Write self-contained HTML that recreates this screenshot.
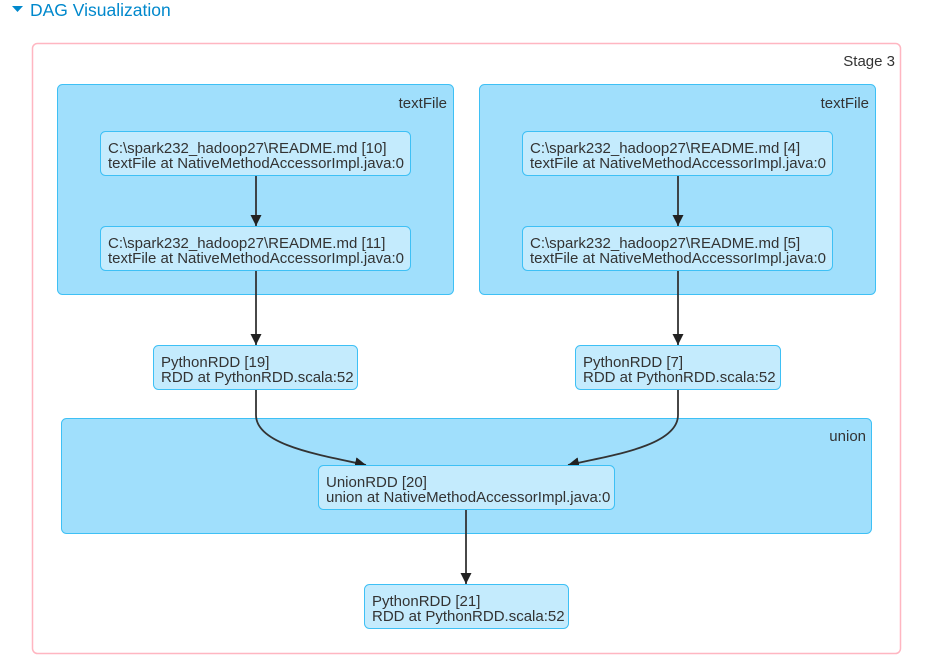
<!DOCTYPE html>
<html><head><meta charset="utf-8"><style>
html,body{margin:0;padding:0;background:#fff;}
svg{display:block;font-family:"Liberation Sans",Arial,sans-serif;}
.cl{fill:#a0dffc;stroke:#3ec0f5;stroke-width:1;}
.nd{fill:#c4ebfd;stroke:#3ec0f5;stroke-width:1;}
.t{font-size:15px;fill:#333;}
.e{fill:none;stroke:#333;stroke-width:1.8;}
</style></head><body>
<svg width="932" height="663" viewBox="0 0 932 663">
<defs>
<marker id="b" viewBox="0 0 10 10" refX="10" refY="5" markerWidth="11" markerHeight="11" markerUnits="userSpaceOnUse" orient="auto"><path d="M0,0L10,5L0,10z" fill="#222"/></marker></defs>
<path d="M12,6L23,6L17.5,12z" fill="#0088cc"/>
<text x="30" y="16" font-size="17.5" fill="#0088cc">DAG Visualization</text>
<rect x="32.5" y="43.5" width="868" height="610" rx="5" fill="#fff" stroke="#ffb6c1" stroke-width="1.5"/>
<text x="895" y="66" class="t" text-anchor="end" font-size="14">Stage 3</text>

<rect class="cl" x="57.5" y="84.5" width="396" height="210" rx="5"/>
<text x="447" y="108" class="t" text-anchor="end">textFile</text>
<rect class="cl" x="479.5" y="84.5" width="396" height="210" rx="5"/>
<text x="869" y="108" class="t" text-anchor="end">textFile</text>
<rect class="cl" x="61.5" y="418.5" width="810" height="115" rx="5"/>
<text x="866" y="441" class="t" text-anchor="end">union</text>

<path class="e" d="M256,176V226" marker-end="url(#b)"/>
<path class="e" d="M678,176V226" marker-end="url(#b)"/>
<path class="e" d="M256,271V345" marker-end="url(#b)"/>
<path class="e" d="M678,271V345" marker-end="url(#b)"/>
<path class="e" d="M256,390V415C256,445 320,455 366,465" marker-end="url(#b)"/>
<path class="e" d="M678,390V415C678,445 615,455 568,465" marker-end="url(#b)"/>
<path class="e" d="M466,510V584" marker-end="url(#b)"/>

<rect class="nd" x="100.5" y="131.5" width="310" height="44" rx="5"/>
<text class="t" x="108" y="153">C:\spark232_hadoop27\README.md [10]</text>
<text class="t" x="108" y="168">textFile at NativeMethodAccessorImpl.java:0</text>
<rect class="nd" x="100.5" y="226.5" width="310" height="44" rx="5"/>
<text class="t" x="108" y="248">C:\spark232_hadoop27\README.md [11]</text>
<text class="t" x="108" y="263">textFile at NativeMethodAccessorImpl.java:0</text>
<rect class="nd" x="522.5" y="131.5" width="310" height="44" rx="5"/>
<text class="t" x="530" y="153">C:\spark232_hadoop27\README.md [4]</text>
<text class="t" x="530" y="168">textFile at NativeMethodAccessorImpl.java:0</text>
<rect class="nd" x="522.5" y="226.5" width="310" height="44" rx="5"/>
<text class="t" x="530" y="248">C:\spark232_hadoop27\README.md [5]</text>
<text class="t" x="530" y="263">textFile at NativeMethodAccessorImpl.java:0</text>

<rect class="nd" x="153.5" y="345.5" width="204" height="44" rx="5"/>
<text class="t" x="161" y="367">PythonRDD [19]</text>
<text class="t" x="161" y="382">RDD at PythonRDD.scala:52</text>
<rect class="nd" x="575.5" y="345.5" width="205" height="44" rx="5"/>
<text class="t" x="583" y="367">PythonRDD [7]</text>
<text class="t" x="583" y="382">RDD at PythonRDD.scala:52</text>

<rect class="nd" x="318.5" y="465.5" width="296" height="44" rx="5"/>
<text class="t" x="326" y="487">UnionRDD [20]</text>
<text class="t" x="326" y="502">union at NativeMethodAccessorImpl.java:0</text>

<rect class="nd" x="364.5" y="584.5" width="204" height="44" rx="5"/>
<text class="t" x="372" y="606">PythonRDD [21]</text>
<text class="t" x="372" y="621">RDD at PythonRDD.scala:52</text>
</svg>
</body></html>
